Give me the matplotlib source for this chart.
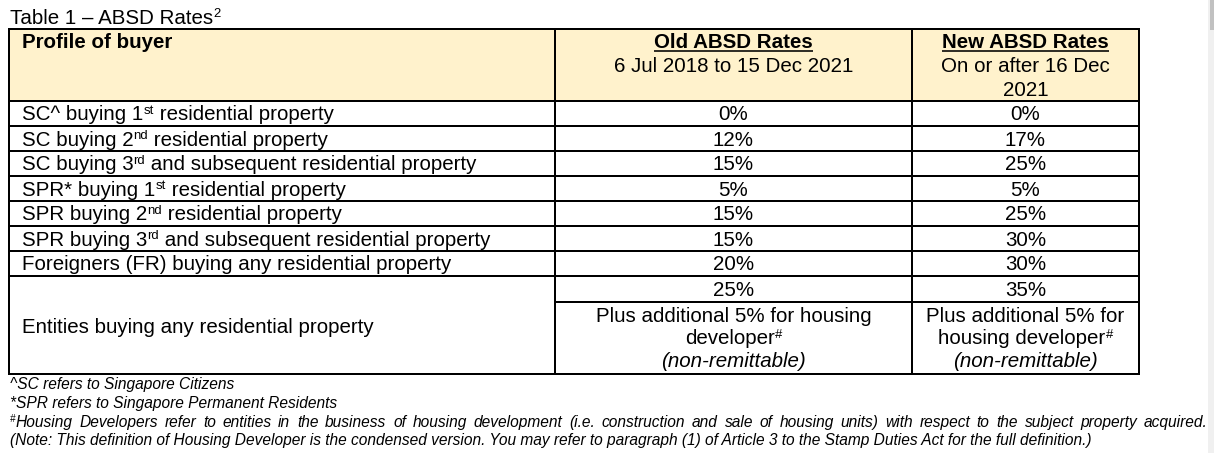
import matplotlib
matplotlib.use("Agg")
import matplotlib.pyplot as plt
import matplotlib.patches as patches

plt.rcParams["font.family"] = ["Liberation Sans", "DejaVu Sans"]

W, H, DPI = 1214, 453, 100

# ---- table content -------------------------------------------------------
title = [("Table 1 – ABSD Rates", False), ("2", True)]
header_profile = "Profile of buyer"
header_old = ["Old ABSD Rates", "6 Jul 2018 to 15 Dec 2021"]
header_new = ["New ABSD Rates", "On or after 16 Dec", "2021"]

buyers = [
    [("SC^ buying 1", False), ("st", True), (" residential property", False)],
    [("SC buying 2", False), ("nd", True), (" residential property", False)],
    [("SC buying 3", False), ("rd", True), (" and subsequent residential property", False)],
    [("SPR* buying 1", False), ("st", True), (" residential property", False)],
    [("SPR buying 2", False), ("nd", True), (" residential property", False)],
    [("SPR buying 3", False), ("rd", True), (" and subsequent residential property", False)],
    [("Foreigners (FR) buying any residential property", False)],
]
old_rates = ["0%", "12%", "15%", "5%", "15%", "15%", "20%"]
new_rates = ["0%", "17%", "25%", "5%", "25%", "30%", "30%"]

entity_buyer = "Entities buying any residential property"
entity_old = "25%"
entity_new = "35%"
old_extra = [[("Plus additional 5% for housing", False)], [("developer", False), ("#", True)]]
new_extra = [[("Plus additional 5% for", False)], [("housing developer", False), ("#", True)]]
remit_note = "(non-remittable)"

footnotes = [
    [("^SC refers to Singapore Citizens", False)],
    [("*SPR refers to Singapore Permanent Residents", False)],
    [("#", True), ("Housing Developers refer to entities in the business of housing development "
                   "(i.e. construction and sale of housing units) with respect to the subject "
                   "property acquired.", False)],
    [("(Note: This definition of Housing Developer is the condensed version. You may refer to "
      "paragraph (1) of Article 3 to the Stamp Duties Act for the full definition.)", False)],
]
# the paragraph is justified, so every line but the last is stretched
justified = [False, False, True, False]

# ---- layout (pixels) -----------------------------------------------------
BODY = 20.5        # font size in px
NOTE = 15.5
SUP = 0.64
LW = 2.0 * 72 / DPI
HEAD_FILL = "#FFF2CC"

x_left, x_c1, x_c2, x_right = 9, 555, 912, 1139
y_top, y_head, row_h = 29, 101, 25
y_split, y_bottom = 302, 374
note_right = 1207.5


def pt(v):
    return v * 72 / DPI


fig = plt.figure(figsize=(W / DPI, H / DPI), dpi=DPI)
ax = fig.add_axes([0, 0, 1, 1])
ax.set_xlim(0, W)
ax.set_ylim(H, 0)
ax.axis("off")
renderer = fig.canvas.get_renderer()


def rich(x, y, parts, ha="left", size=BODY, justify_to=None, **kw):
    """ Draw text pieces with superscripts on one baseline """
    pieces = []
    for s, sup in parts:
        if justify_to and not sup:
            words = s.split(" ")
            pieces += [(wd, False, True) for wd in words]
        else:
            pieces.append((s, sup, False))

    placed = []
    for s, sup, word in pieces:
        fs = size * SUP if sup else size
        t = ax.text(x, y, s, fontsize=pt(fs), va="baseline", ha="left", **kw)
        placed.append((t, t.get_window_extent(renderer).width, sup, word))

    total = sum(p[1] for p in placed)
    n_gaps = sum(1 for p in placed if p[3]) - 1
    gap = (justify_to - x - total) / n_gaps if justify_to else 0

    cx = x - total / 2 if ha == "center" else x
    start = cx
    first_word = True
    for t, w, sup, word in placed:
        if word and not first_word:
            cx += gap
        if word:
            first_word = False
        t.set_position((cx, y - size * 0.33 if sup else y))
        cx += w
    return start, total


def underline(x, w, y):
    ax.plot([x, x + w], [y, y], color="black", lw=1.6 * 72 / DPI, solid_capstyle="butt")


# Header background
ax.add_patch(patches.Rectangle((x_left, y_top), x_right - x_left, y_head - y_top,
                               facecolor=HEAD_FILL, edgecolor="none"))

# Title
rich(10, 23.5, title)

# Header texts
mid_old = (x_c1 + x_c2) / 2
mid_new = (x_c2 + x_right) / 2
rich(22, 48.5, [(header_profile, False)], fontweight="bold")
x0, w0 = rich(mid_old, 48.5, [(header_old[0], False)], ha="center", fontweight="bold")
underline(x0, w0, 51)
rich(mid_old, 72.5, [(header_old[1], False)], ha="center")
x0, w0 = rich(mid_new, 48.5, [(header_new[0], False)], ha="center", fontweight="bold")
underline(x0, w0, 51)
rich(mid_new, 72.5, [(header_new[1], False)], ha="center")
rich(mid_new, 95.5, [(header_new[2], False)], ha="center")

# Body rows
row_lines = [y_head + i * row_h for i in range(len(buyers) + 1)]
for i, (label, old, new) in enumerate(zip(buyers, old_rates, new_rates)):
    base = row_lines[i] + 19.5
    rich(22, base, label)
    rich(mid_old, base, [(old, False)], ha="center")
    rich(mid_new, base, [(new, False)], ha="center")

# Entities row
rich(22, 333, [(entity_buyer, False)])
rich(mid_old, 296, [(entity_old, False)], ha="center")
rich(mid_new, 296, [(entity_new, False)], ha="center")
for k, (lo, ln) in enumerate(zip(old_extra, new_extra)):
    rich(mid_old, 322 + k * 22.5, lo, ha="center")
    rich(mid_new, 322 + k * 22.5, ln, ha="center")
rich(mid_old, 367, [(remit_note, False)], ha="center", fontstyle="italic")
rich(mid_new, 367, [(remit_note, False)], ha="center", fontstyle="italic")

# Grid lines
for y in [y_top, y_head] + row_lines[1:] + [y_bottom]:
    ax.plot([x_left, x_right], [y, y], color="black", lw=LW, solid_capstyle="projecting")
ax.plot([x_c1, x_right], [y_split, y_split], color="black", lw=LW)
for x in [x_left, x_c1, x_c2, x_right]:
    ax.plot([x, x], [y_top, y_bottom], color="black", lw=LW, solid_capstyle="projecting")

# Footnotes
for k, (note, just) in enumerate(zip(footnotes, justified)):
    rich(10, 389.5 + k * 18.6, note, size=NOTE, fontstyle="italic",
         justify_to=note_right if just else None)

# Scrollbar strip at the right edge of the screenshot
fig.patches.append(patches.Rectangle((1208 / W, 0), 6 / W, 1, transform=fig.transFigure,
                                     facecolor="#F0F0F0", edgecolor="none"))
fig.patches.append(patches.Rectangle((1210 / W, 1 - 30 / H), 4 / W, 30 / H,
                                     transform=fig.transFigure,
                                     facecolor="#C1C1C1", edgecolor="none"))

fig.savefig("out.png", dpi=DPI)
